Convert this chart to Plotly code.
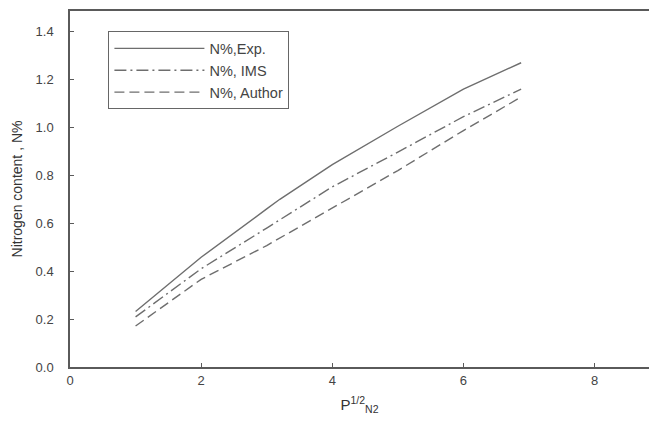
import plotly.graph_objects as go

# Data
exp_x = [1, 2, 3, 3.2, 4, 5, 6, 6.88]
exp_vals = [0.232, 0.458, 0.66, 0.70, 0.845, 1.005, 1.16, 1.27]
ims_x = [1, 2, 3, 4, 5, 6, 6.88]
ims_vals = [0.209, 0.41, 0.58, 0.752, 0.897, 1.045, 1.16]
author_x = [1, 2, 3, 4, 5, 6, 6.88]
author_vals = [0.171, 0.366, 0.507, 0.663, 0.82, 0.987, 1.127]

series_names = ["N%,Exp.", "N%, IMS", "N%, Author"]
x_tick_vals = [0, 2, 4, 6, 8]
y_tick_vals = [0.0, 0.2, 0.4, 0.6, 0.8, 1.0, 1.2, 1.4]
y_tick_text = ["0.0", "0.2", "0.4", "0.6", "0.8", "1.0", "1.2", "1.4"]

line_color = "#6e6e6e"
axis_color = "#5a5a5a"
font_family = "Liberation Sans, Arial, sans-serif"

fig = go.Figure()
fig.add_trace(go.Scatter(x=exp_x, y=exp_vals, mode="lines", name=series_names[0],
                         line=dict(color=line_color, width=1.4, dash="solid")))
fig.add_trace(go.Scatter(x=ims_x, y=ims_vals, mode="lines", name=series_names[1],
                         line=dict(color=line_color, width=1.4, dash="12px,4px,2px,4px")))
fig.add_trace(go.Scatter(x=author_x, y=author_vals, mode="lines", name=series_names[2],
                         line=dict(color=line_color, width=1.4, dash="10px,5px")))

fig.update_layout(
    width=649, height=428,
    margin=dict(l=70, r=0, t=11, b=61, autoexpand=False),
    paper_bgcolor="white", plot_bgcolor="white",
    font=dict(family=font_family, size=13, color="#444"),
    showlegend=True,
    legend=dict(
        x=0.066, y=0.943, xanchor="left", yanchor="top",
        bordercolor="#666", borderwidth=1.2, bgcolor="white",
        font=dict(family=font_family, size=14.5, color="#444"),
        itemwidth=90, tracegroupgap=0,
    ),
)
fig.update_xaxes(
    range=[0, 8.83], tickvals=x_tick_vals, ticktext=[str(v) for v in x_tick_vals],
    showgrid=False, zeroline=False,
    showline=True, linecolor=axis_color, linewidth=1.5, mirror=True,
    ticks="inside", ticklen=4, tickcolor=axis_color,
    tickfont=dict(size=13, color="#444"), ticklabelstandoff=1,
    title=dict(text="P<sup>1/2</sup><sub>N2</sub>", font=dict(size=15, color="#333"), standoff=12),
)
fig.update_yaxes(
    range=[0, 1.486], tickvals=y_tick_vals, ticktext=y_tick_text,
    showgrid=False, zeroline=False,
    showline=True, linecolor=axis_color, linewidth=1.5, mirror=False,
    ticks="inside", ticklen=4, tickcolor=axis_color,
    tickfont=dict(size=13, color="#444"), ticklabelstandoff=12,
    title=dict(text="Nitrogen content , N%", font=dict(size=14, color="#333"), standoff=10),
)

fig.write_html(
    "out.html",
    config={"displayModeBar": False},
    post_script="document.body.style.margin='0';document.body.style.overflow='hidden';",
)
